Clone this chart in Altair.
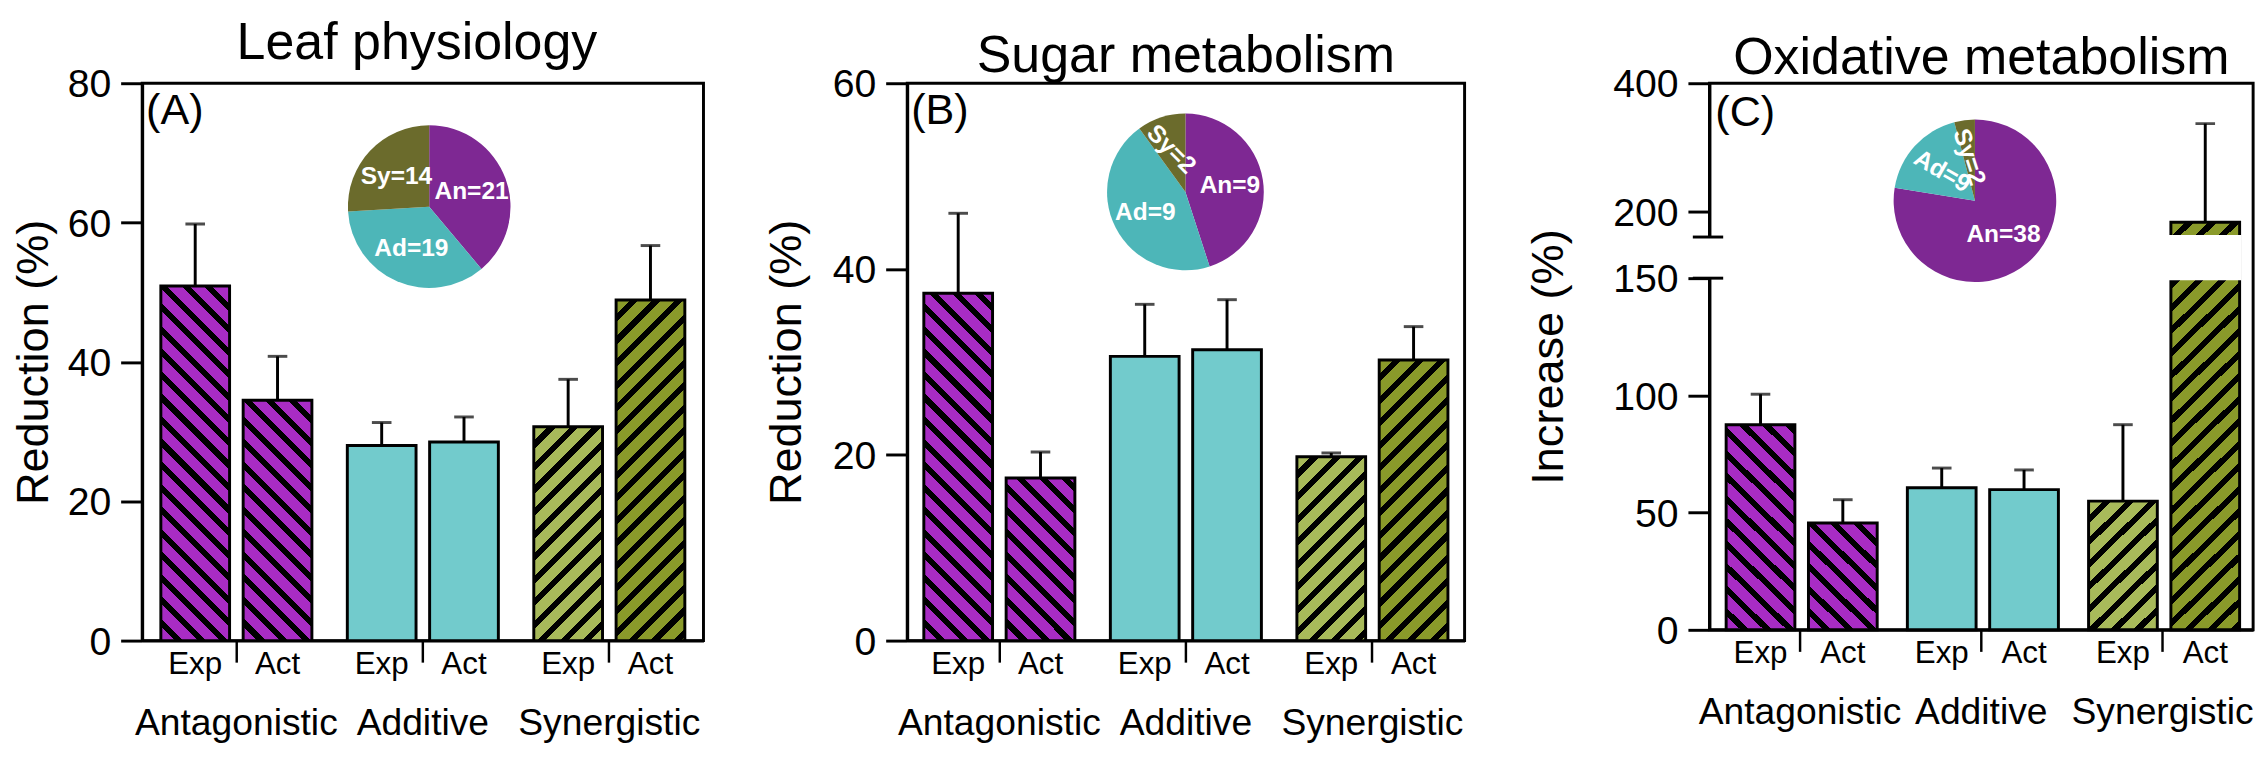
import altair as alt
import pandas as pd

FONT = "Liberation Sans"

# ---------------- data ----------------
groups = ["Antagonistic", "Additive", "Synergistic"]
kinds = ["Exp", "Act"]

# bar order: Antag-Exp, Antag-Act, Add-Exp, Add-Act, Syn-Exp, Syn-Act
leaf_mean = [50.9, 34.5, 28.0, 28.5, 30.7, 48.9]
leaf_err = [8.9, 6.3, 3.3, 3.6, 6.8, 7.8]
sugar_mean = [37.4, 17.5, 30.6, 31.3, 19.8, 30.2]
sugar_err = [8.6, 2.8, 5.6, 5.4, 0.4, 3.6]
oxid_mean = [87.5, 45.6, 60.6, 59.8, 54.9, 183.0]
oxid_err = [13.0, 9.9, 8.4, 8.4, 32.6, 154.0]

pie_cats = ["An", "Ad", "Sy"]
leaf_counts = [21, 19, 14]
sugar_counts = [9, 9, 2]
oxid_counts = [38, 9, 2]

leaf_yticks = [0, 20, 40, 60, 80]
sugar_yticks = [0, 20, 40, 60]
oxid_yticks = [0, 50, 100, 150, 200, 400]
oxid_break = [150, 160]

# ---------------- styles ----------------
bar_colors = {
    ("Antagonistic", "Exp"): "#A82CC4",
    ("Antagonistic", "Act"): "#A82CC4",
    ("Additive", "Exp"): "#72CBCC",
    ("Additive", "Act"): "#72CBCC",
    ("Synergistic", "Exp"): "#A8BA5A",
    ("Synergistic", "Act"): "#8A9A2A",
}
stripe_dir = {"Antagonistic": "back", "Additive": None, "Synergistic": "fwd"}
pie_colors = ["#7E2893", "#4DB6B8", "#6B6B2C"]
leaf_label_angle = [0, 0, 0]
sugar_label_angle = [0, 0, 45]
oxid_label_angle = [0, 30, 72]

PI_O = 0.165
YTITLE_SIZE = 46


def stripe_gradient(color, w, h, direction, period=23.0, black_frac=0.36):
    L = w + h
    pt = period / L
    stops = []
    i = 0
    while i * pt < 1:
        s = i * pt
        mid = min(s + (1 - black_frac) * pt, 1.0)
        e = min(s + pt, 1.0)
        stops += [(s, color), (mid, color), (mid, "black"), (e, "black")]
        i += 1
    m = (w + h) / (w * w + h * h)
    if direction == "back":
        x1, y1, x2, y2 = 0, 1, w * m, 1 - h * m
    else:
        x1, y1, x2, y2 = 0, 0, w * m, h * m
    return {
        "gradient": "linear",
        "x1": x1, "y1": y1, "x2": x2, "y2": y2,
        "stops": [{"offset": round(o, 5), "color": c} for o, c in stops],
    }


def make_panel(title, title_offset, title_dx, letter, letter_xy, ytitle, ytitle_pad,
               means, errs, counts, label_angles, yticks, W, H,
               y_domain, y_range, pi_g, po_g, pie_c, pie_r, lab_r, brk=None):
    df = pd.DataFrame({
        "group": [g for g in groups for _ in kinds],
        "kind": kinds * 3,
        "mean": means,
        "upper": [m + e for m, e in zip(means, errs)],
    })
    df["key"] = df["group"] + "-" + df["kind"]

    def ypix(v):
        for i in range(len(y_domain) - 1):
            d0, d1 = y_domain[i], y_domain[i + 1]
            if v <= d1 or i == len(y_domain) - 2:
                r0, r1 = y_range[i], y_range[i + 1]
                return r0 + (v - d0) / (d1 - d0) * (r1 - r0)
        return y_range[-1]

    step_g = W / (3 - pi_g + 2 * po_g)
    band_g = step_g * (1 - pi_g)
    bw = band_g / (2 - PI_O) * (1 - PI_O)

    conds = []
    for _, r in df.iterrows():
        d = stripe_dir[r["group"]]
        if d is None:
            continue
        h = ypix(0) - ypix(r["mean"])
        grad = stripe_gradient(bar_colors[(r["group"], r["kind"])], bw, h, d)
        conds.append({"test": f"datum.key === '{r['key']}'", "value": grad})

    yscale = alt.Scale(domain=y_domain, range=y_range, nice=False)
    yaxis = alt.Axis(
        title=ytitle, values=yticks, titleFontSize=YTITLE_SIZE, labelFontSize=40,
        labelPadding=10, labelOffset=2, titlePadding=ytitle_pad, grid=False,
        labelOverlap=False, tickSize=22, tickWidth=3, titleFont=FONT,
        titleFontWeight="normal", titleLimit=0,
    )
    xscale = alt.Scale(domain=groups, paddingInner=pi_g, paddingOuter=po_g)
    xaxis = alt.Axis(
        title=None, labelFontSize=38, labelPadding=44, labelAngle=0,
        tickSize=22, tickWidth=2.5, labelLimit=0, labelOverlap=False,
        labelBound=False, grid=False,
    )
    x_enc = alt.X("group:N", sort=groups, scale=xscale, axis=xaxis)
    xo_enc = alt.XOffset("kind:N", sort=kinds,
                         scale=alt.Scale(domain=kinds, paddingInner=PI_O, paddingOuter=0))

    base = alt.Chart(df)
    bars = base.mark_bar(stroke="black", strokeWidth=3).encode(
        x=x_enc, xOffset=xo_enc,
        y=alt.Y("mean:Q", scale=yscale, axis=yaxis),
        fill={"condition": conds, "value": "#72CBCC"},
    )
    layers = [bars]
    if brk is not None:
        gap = base.transform_filter(f"datum.mean > {brk[1]}").transform_calculate(
            lo=str(brk[0]), hi=str(brk[1])
        ).mark_bar(fill="white", stroke="white", strokeWidth=4).encode(
            x=x_enc, xOffset=xo_enc,
            y=alt.Y("lo:Q", scale=yscale, axis=yaxis), y2="hi:Q",
        )
        layers.append(gap)
    rules = base.mark_rule(strokeWidth=3, color="black").encode(
        x=x_enc, xOffset=xo_enc,
        y=alt.Y("mean:Q", scale=yscale, axis=yaxis), y2="upper:Q",
    )
    caps = base.mark_tick(size=20, thickness=3, color="black").encode(
        x=x_enc, xOffset=xo_enc,
        y=alt.Y("upper:Q", scale=yscale, axis=yaxis),
    )
    layers += [rules, caps]
    if brk is not None:
        bdf = pd.DataFrame({"lo": [brk[0]], "hi": [brk[1]]})
        wgap = alt.Chart(bdf).mark_rule(color="white", strokeWidth=7).encode(
            x=alt.value(0), y=alt.Y("lo:Q", scale=yscale, axis=yaxis), y2="hi:Q"
        )
        tdf = pd.DataFrame({"v": brk})
        bticks = alt.Chart(tdf).mark_rule(color="black", strokeWidth=3).encode(
            x=alt.value(-17), x2=alt.value(14),
            y=alt.Y("v:Q", scale=yscale, axis=yaxis),
        )
        layers += [wgap, bticks]
    kind_lab = base.mark_text(fontSize=32, font=FONT, baseline="top", align="center",
                              color="black").encode(
        x=x_enc, xOffset=xo_enc, y=alt.value(H + 9), text="kind:N"
    )
    layers.append(kind_lab)

    pdf = pd.DataFrame({"cat": pie_cats, "n": counts, "idx": [0, 1, 2],
                        "ang": label_angles})
    pdf["label"] = pdf["cat"] + "=" + pdf["n"].astype(str)
    theta = alt.Theta("n:Q", stack=True)
    pie = alt.Chart(pdf).mark_arc(radius=pie_r).encode(
        theta=theta,
        color=alt.Color("cat:N", scale=alt.Scale(domain=pie_cats, range=pie_colors),
                        legend=None),
        order=alt.Order("idx:Q"),
        x=alt.value(pie_c[0]), y=alt.value(pie_c[1]),
    )
    pie_txt = alt.Chart(pdf).mark_text(radius=lab_r, fontSize=25, fontWeight="bold",
                                       color="white", font=FONT, align="center",
                                       baseline="middle").encode(
        theta=theta, order=alt.Order("idx:Q"), text="label:N",
        angle=alt.Angle("ang:Q", scale=None),
        x=alt.value(pie_c[0]), y=alt.value(pie_c[1]),
    )
    letter_df = pd.DataFrame({"t": [letter]})
    letter_txt = alt.Chart(letter_df).mark_text(
        fontSize=44, font=FONT, align="left", baseline="top", color="black"
    ).encode(text="t:N", x=alt.value(letter_xy[0]), y=alt.value(letter_xy[1]))
    layers += [pie, pie_txt, letter_txt]

    return alt.layer(*layers).properties(
        width=W, height=H,
        title=alt.TitleParams(text=title, fontSize=53, font=FONT, fontWeight="normal",
                              offset=title_offset, baseline="alphabetic", frame="group",
                              anchor="middle", dx=title_dx, color="black"),
    )


pA = make_panel("Leaf physiology", -46, -6, "(A)", (4, 7), "Reduction (%)", 10,
                leaf_mean, leaf_err, leaf_counts, leaf_label_angle, leaf_yticks,
                573, 569, [0, 80], [569, 0], 0.19, 0.1, (293, 126), 83, 46)
pB = make_panel("Sugar metabolism", -60, 0, "(B)", (4, 7), "Reduction (%)", 22,
                sugar_mean, sugar_err, sugar_counts, sugar_label_angle, sugar_yticks,
                569, 569, [0, 60], [569, 0], 0.19, 0.089, (284, 111), 80, 46)
pC = make_panel("Oxidative metabolism", -62, 0, "(C)", (6, 9), "Increase (%)", 41,
                oxid_mean, oxid_err, oxid_counts, oxid_label_angle, oxid_yticks,
                555, 558, [0, 150, 160, 400], [558, 199, 157, 0], 0.184, 0.092,
                (271, 120), 83, 45, brk=oxid_break)

chart = alt.hconcat(pA, pB, pC, spacing=59).properties(
    padding={"left": 2, "top": 0, "right": 4, "bottom": 4}
).configure_view(stroke="black", strokeWidth=3).configure_axis(
    domainColor="black", domainWidth=3, tickColor="black", tickWidth=3, tickSize=22,
    labelFont=FONT, titleFont=FONT, labelColor="black", titleColor="black",
    titleFontWeight="normal", titleFontSize=YTITLE_SIZE,
).configure_text(font=FONT)

chart.save("out.html", embed_options={"renderer": "svg", "actions": False})
